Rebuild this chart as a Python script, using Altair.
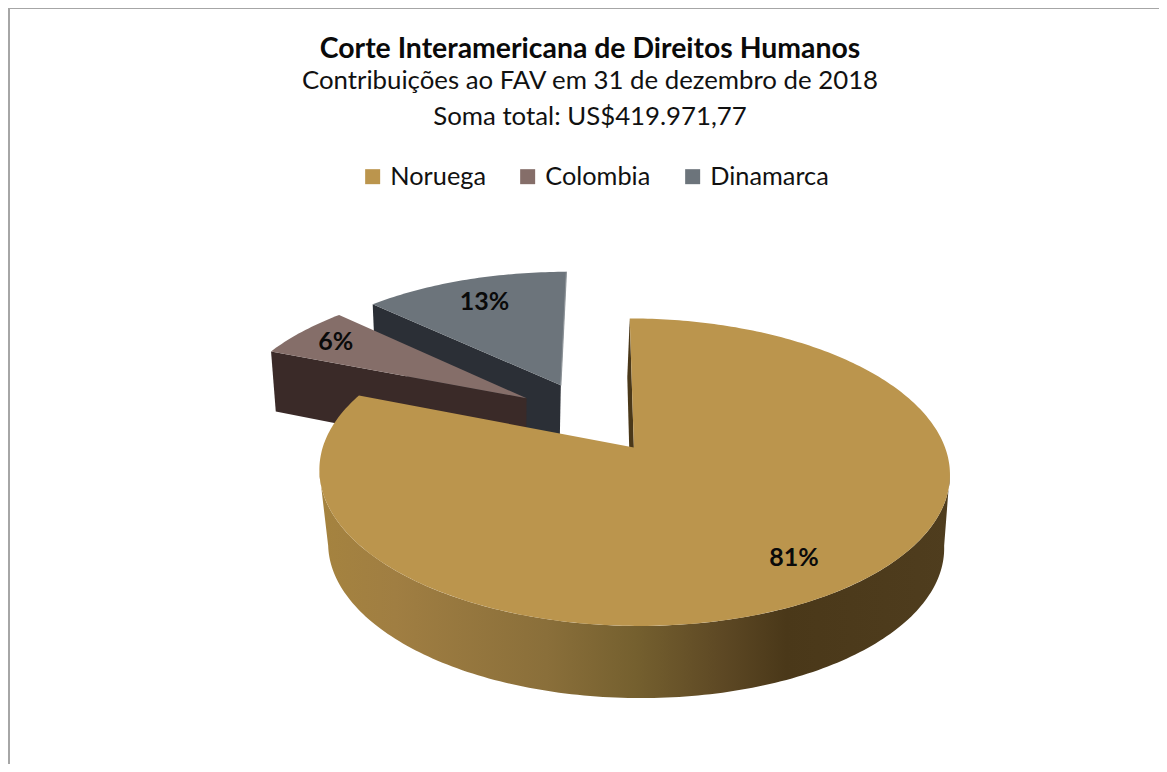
import math
import altair as alt
import pandas as pd

paises = ["Noruega", "Colombia", "Dinamarca"]
percentuais = [81, 6, 13]
cores_topo = ["#bb954d", "#856e69", "#6c747b"]
cores_face = ["#4a3819", "#3a2a28", "#2b2f36"]
rotulos = ["81%", "6%", "13%"]
titulo = "Corte Interamericana de Direitos Humanos"
subtitulos = ["Contribuições ao FAV em 31 de dezembro de 2018", "Soma total: US$419.971,77"]

W, H = 1151, 756
FONT = "Lato"
X0, Y0, A, B, C, K = 627.0, 439.0, 311.0, 149.6, -5.0, 0.16
D, M, E = 66.2, 0.023, 3.0
CENTRO = (-0.147, 0.207)
EXPLOSAO = 0.255


def projeta(u, v, baixo=False):
    if baixo:
        den = 1 + K * v + M
        return (X0 + (A * u + C * v - E) / den, Y0 + (D - B * v) / den)
    den = 1 + K * v
    return (X0 + (A * u + C * v) / den, Y0 - B * v / den)


def projeta_aro(u, v):
    den = 1 + K * v + M
    return (X0 + 1.5 + (A * u + C * v) / den, Y0 + (76.0 - 140.0 * v) / den)


# wedge angles come from the percentages
total = sum(percentuais)
fatias = []
acum = 0.0
for nome, p in zip(paises, percentuais):
    a0 = acum / total * 2 * math.pi
    acum += p
    a1 = acum / total * 2 * math.pi
    meio = (a0 + a1) / 2
    ap = (CENTRO[0] + EXPLOSAO * math.sin(meio), CENTRO[1] + EXPLOSAO * math.cos(meio))
    fatias.append(dict(nome=nome, a0=a0, a1=a1, meio=meio, ap=ap))


def borda(f, a):
    return (f["ap"][0] + math.sin(a), f["ap"][1] + math.cos(a))


def df_poly(pts, **extra):
    pts = list(pts) + [pts[0]]
    return pd.DataFrame([dict(x=x, y=y, ordem=i, **extra) for i, (x, y) in enumerate(pts)])


xs = alt.X("x:Q", scale=alt.Scale(domain=[0, W], nice=False, zero=False), axis=None)
ys = alt.Y("y:Q", scale=alt.Scale(domain=[H, 0], nice=False, zero=False), axis=None)
cor = alt.Fill(
    "pais:N",
    scale=alt.Scale(domain=paises, range=cores_topo),
    sort=paises,
    legend=alt.Legend(
        title=None, orient="none", legendX=352, legendY=156, direction="horizontal",
        symbolType="square", symbolSize=225, symbolStrokeWidth=0, labelFont=FONT,
        labelFontSize=25.3, labelColor="#111111", columnPadding=29, labelOffset=5,
        symbolOffset=0, labelLimit=200,
    ),
)


def poligono(df, fill):
    return alt.Chart(df).mark_line(fill=fill, strokeWidth=0, stroke=None, clip=False).encode(
        x=xs, y=ys, order="ordem:Q")


def topo(f):
    n = max(8, int((f["a1"] - f["a0"]) * 60))
    pts = [projeta(*f["ap"])]
    for i in range(n + 1):
        pts.append(projeta(*borda(f, f["a0"] + (f["a1"] - f["a0"]) * i / n)))
    df = df_poly(pts, pais=f["nome"])
    return alt.Chart(df).mark_line(strokeWidth=0, clip=False).encode(
        x=xs, y=ys, order="ordem:Q", fill=cor)


def face(f, a, fill):
    c = borda(f, a)
    pts = [projeta(*f["ap"]), projeta(*c), projeta(*c, baixo=True), projeta(*f["ap"], baixo=True)]
    return poligono(df_poly(pts), fill)


def fio(f, a):
    c = borda(f, a)
    df = pd.DataFrame([
        dict(x=p[0], y=p[1], ordem=i)
        for i, p in enumerate([projeta(*c), projeta(*f["ap"])])
    ])
    return alt.Chart(df).mark_line(color="#8d9398", strokeWidth=1.2).encode(
        x=xs, y=ys, order="ordem:Q")


def parede(f, a0, a1):
    n = 160
    ang = [a0 + (a1 - a0) * i / n for i in range(n + 1)]
    cima = [projeta(*borda(f, a)) for a in ang]
    baixo = [projeta_aro(*borda(f, a)) for a in ang]
    grad = alt.Gradient(
        gradient="linear", x1=0, x2=1, y1=0, y2=0,
        stops=[
            alt.GradientStop(color="#a5833f", offset=0.0),
            alt.GradientStop(color="#a07e42", offset=0.12),
            alt.GradientStop(color="#8a6f3a", offset=0.36),
            alt.GradientStop(color="#75602f", offset=0.50),
            alt.GradientStop(color="#5d4824", offset=0.64),
            alt.GradientStop(color="#4a3819", offset=0.74),
            alt.GradientStop(color="#4f3d1e", offset=1.0),
        ],
    )
    return poligono(df_poly(cima + baixo[::-1]), grad)


nor, col, din = fatias
camadas = [
    face(din, din["a0"], cores_face[2]), topo(din), fio(din, din["a1"]),
    face(col, col["a0"], cores_face[1]), topo(col),
    face(nor, nor["a0"], cores_face[0]),
    parede(nor, math.radians(99), math.radians(261)),
    topo(nor),
]

# data labels, placed along each slice's mid angle
fr = [0.8, 0.84, 0.77]
lab = []
for f, t, r in zip(fatias, rotulos, fr):
    x, y = projeta(f["ap"][0] + r * math.sin(f["meio"]), f["ap"][1] + r * math.cos(f["meio"]))
    lab.append(dict(x=x, y=y, t=t))
textos = alt.Chart(pd.DataFrame(lab)).mark_text(
    font=FONT, fontSize=25, fontWeight="bold", color="#0a0a0a", align="center", baseline="middle"
).encode(x=xs, y=ys, text="t:N")

borda_topo = alt.Chart(pd.DataFrame({"a": [0]})).mark_rule(color="#a6a6a6", strokeWidth=1).encode(
    x=alt.value(0), x2=alt.value(W), y=alt.value(0.5))
borda_esq = alt.Chart(pd.DataFrame({"a": [0]})).mark_rule(color="#a6a6a6", strokeWidth=2).encode(
    y=alt.value(0), y2=alt.value(H), x=alt.value(1))

chart = alt.layer(borda_topo, borda_esq, *camadas, textos).properties(
    width=W, height=H, padding=0,
    autosize=alt.AutoSizeParams(type="none"),
    title=alt.Title(
        text=titulo, subtitle=subtitulos, anchor="middle", dx=6.5, offset=-124,
        font=FONT, fontSize=28.4, fontWeight="bold", color="#0a0a0a",
        subtitleFont=FONT, subtitleFontSize=25.8, subtitleColor="#111111",
        subtitleLineHeight=36, subtitlePadding=5,
    ),
).configure_view(strokeWidth=0).resolve_scale(fill="shared")

chart.save("out.html", embed_options={"renderer": "svg", "actions": False})
